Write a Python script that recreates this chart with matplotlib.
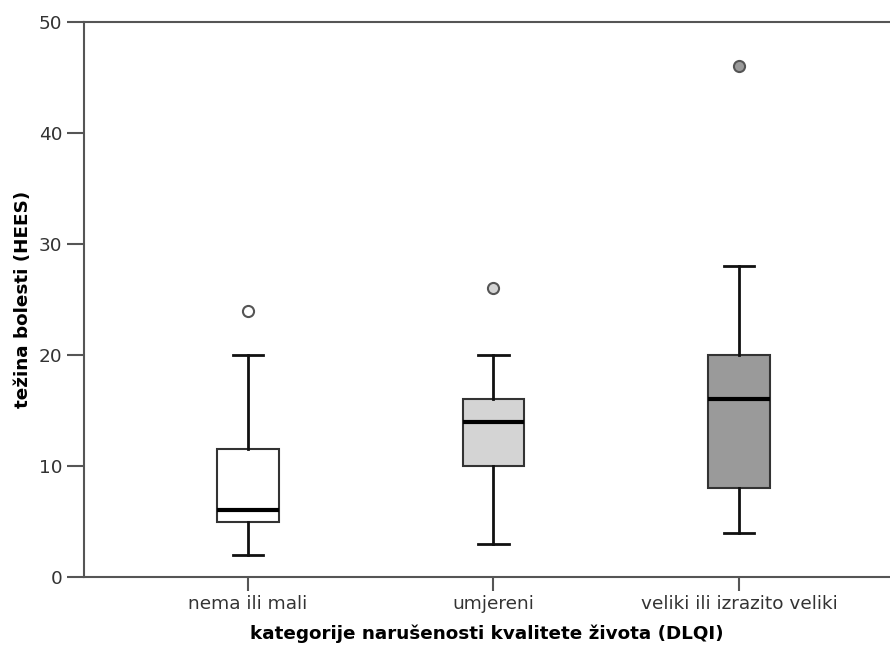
import matplotlib
matplotlib.use("Agg")
import matplotlib.pyplot as plt

categories = ["nema ili mali", "umjereni", "veliki ili izrazito veliki"]
whislo = [2, 3, 4]
q1 = [5, 10, 8]
median = [6, 14, 16]
q3 = [11.5, 16, 20]
whishi = [20, 20, 28]
outliers = [[24], [26], [46]]
box_colors = ["#ffffff", "#d4d4d4", "#9a9a9a"]

plt.rcParams['font.family'] = ['DejaVu Sans']

fig = plt.figure(figsize=(8.9, 6.46), dpi=100)
ax = fig.add_axes([84 / 890, 69 / 646, 1 - 84 / 890, 555 / 646])

stats = []
for i, name in enumerate(categories):
    stats.append(dict(label=name, whislo=whislo[i], q1=q1[i], med=median[i],
                      q3=q3[i], whishi=whishi[i], fliers=outliers[i]))

pos = [1, 2, 3]
bp = ax.bxp(stats, positions=pos, widths=0.25, patch_artist=True,
            boxprops=dict(edgecolor="#333333", linewidth=1.5),
            medianprops=dict(color="black", linewidth=3),
            whiskerprops=dict(color="#111111", linewidth=2),
            capprops=dict(color="#111111", linewidth=2),
            capwidths=0.125)

for patch, c in zip(bp["boxes"], box_colors):
    patch.set_facecolor(c)
for fl, c in zip(bp["fliers"], box_colors):
    fl.set(marker="o", markersize=8, markerfacecolor=c,
           markeredgecolor="#555555", markeredgewidth=1.5)

ax.set_xlim(1 - 164 / 245.5, 3 + 151 / 245.5)
ax.set_ylim(0, 50)
ax.set_yticks([0, 10, 20, 30, 40, 50])
ax.set_xticks(pos)
ax.set_xticklabels(categories)

for s in ["left", "bottom", "top"]:
    ax.spines[s].set_color("#555555")
    ax.spines[s].set_linewidth(1.5)
ax.spines["right"].set_visible(False)

ax.tick_params(axis="both", colors="#555555", labelcolor="#333333",
               width=1.5, labelsize=13.3)
ax.tick_params(axis="y", length=12)
ax.tick_params(axis="x", length=10, pad=3)

ax.set_xlabel("kategorije narušenosti kvalitete života (DLQI)",
              fontsize=13.2, fontweight="bold", labelpad=8.5)
ax.set_ylabel("težina bolesti (HEES)", fontsize=13.2, fontweight="bold",
              labelpad=5)

fig.savefig("out.png", dpi=100)
